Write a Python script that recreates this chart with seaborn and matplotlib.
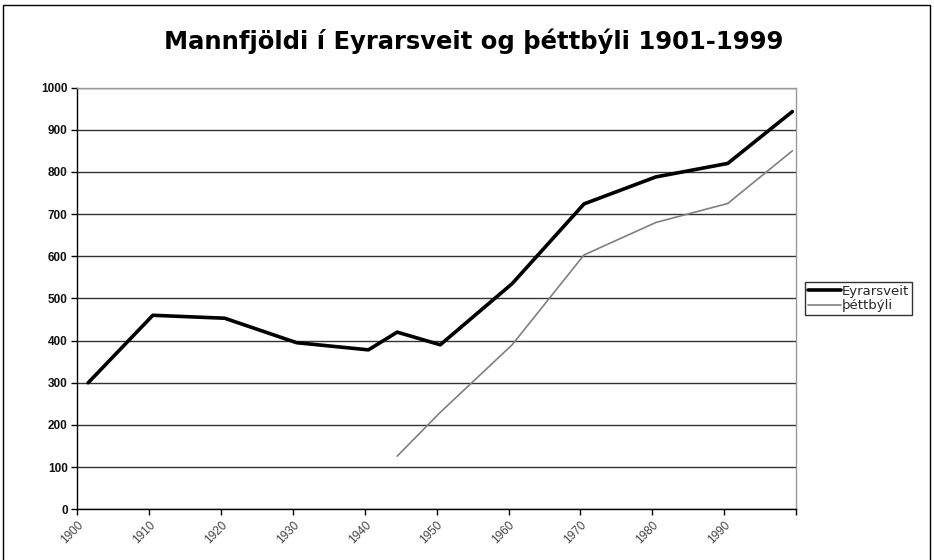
import numpy as np
import pandas as pd
import matplotlib
matplotlib.use("Agg")
import matplotlib.pyplot as plt
import seaborn as sns
from matplotlib.patches import Rectangle

# Data
years_eyr = [1901, 1910, 1920, 1930, 1940, 1944, 1950, 1960, 1970, 1980, 1990, 1999]
eyrarsveit = [300, 460, 453, 395, 378, 420, 390, 535, 724, 788, 820, 943]
years_thett = [1944, 1950, 1960, 1970, 1980, 1990, 1999]
thettbyli = [126, 230, 390, 603, 680, 725, 850]
tick_labels = ["1900", "1910", "1920", "1930", "1940", "1950", "1960", "1970", "1980", "1990"]
y_ticks = [0, 100, 200, 300, 400, 500, 600, 700, 800, 900, 1000]
title = "Mannfjöldi í Eyrarsveit og þéttbýli 1901-1999"

df_e = pd.DataFrame({"year": years_eyr, "value": eyrarsveit})
df_t = pd.DataFrame({"year": years_thett, "value": thettbyli})

sns.set_theme(style="white")
plt.rcParams['font.family'] = ['Liberation Sans', 'DejaVu Sans']

W, H = 934, 560
fig = plt.figure(figsize=(W / 100, H / 100), dpi=100)
fig.patch.set_facecolor("white")

left, right, top, bottom = 77.4, 796.0, 87.5, 509.3
ax = fig.add_axes([left / W, 1 - bottom / H, (right - left) / W, (bottom - top) / H])
ax.set_facecolor("white")

sns.lineplot(data=df_e, x="year", y="value", ax=ax, color="black", linewidth=2.6,
             label="Eyrarsveit", zorder=4)
sns.lineplot(data=df_t, x="year", y="value", ax=ax, color="#808080", linewidth=1.2,
             label="þéttbýli", zorder=3)

ax.set_xlim(1899.5, 1999.5)
ax.set_ylim(0, 1000)
ax.set_xlabel("")
ax.set_ylabel("")

ax.set_yticks(y_ticks)
ax.set_yticklabels([str(v) for v in y_ticks], fontsize=8.5, fontweight="bold", color="#111111")
ax.yaxis.grid(True, color="#333333", linewidth=1.0)
ax.set_axisbelow(True)

xt = [1899.5 + 10 * k for k in range(11)]
ax.set_xticks(xt)
ax.set_xticklabels(tick_labels + [""], rotation=45, ha="right", rotation_mode="anchor",
                   fontsize=8.5, color="#444444")
ax.tick_params(axis="both", which="major", direction="out", length=4, width=1,
               color="black", left=True, bottom=True, pad=3)

for s in ["left", "bottom"]:
    ax.spines[s].set_color("black")
    ax.spines[s].set_linewidth(1.0)
for s in ["top", "right"]:
    ax.spines[s].set_color("#9a9a9a")
    ax.spines[s].set_linewidth(1.0)

leg = ax.legend(loc="center left", bbox_to_anchor=(805 / W, 1 - 298.5 / H),
                bbox_transform=fig.transFigure, frameon=True, fancybox=False,
                prop={"family": "DejaVu Sans", "size": 9.5},
                handlelength=2.5, handletextpad=0.1, borderpad=0.2,
                labelspacing=0.1, borderaxespad=0)
leg.get_frame().set_edgecolor("black")
leg.get_frame().set_linewidth(1.0)

fig.text(0.507, 1 - 41 / H, title, ha="center", va="center", fontsize=17.5,
         fontweight="bold", color="black", family="DejaVu Sans")

fig.patches.append(Rectangle((3 / W, -0.05), (930 - 3) / W, 1 - 5 / H + 0.05,
                             transform=fig.transFigure, fill=False, edgecolor="black",
                             linewidth=1.0))

fig.savefig("out.png", dpi=100)
